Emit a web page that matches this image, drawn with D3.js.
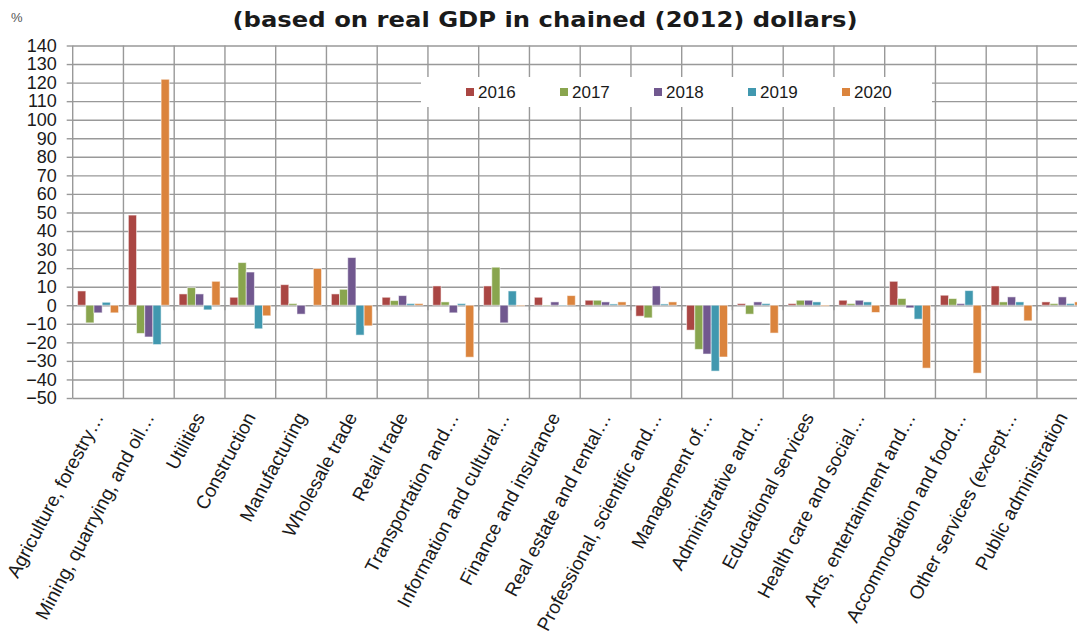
<!DOCTYPE html>
<html>
<head>
<meta charset="utf-8">
<script src="https://cdnjs.cloudflare.com/ajax/libs/d3/7.8.5/d3.min.js"></script>
<style>
    body { margin: 0; background: #fff; }
    svg { display: block; font-family: "Liberation Sans", Arial, sans-serif; }
    .grid line { stroke: #999; stroke-width: 1.4; }
    .grid path { display: none; }
    .y-axis path { display: none; }
    .y-axis line { stroke: #999; stroke-width: 1.4; }
    .y-axis text { font-size: 18px; fill: #1a1a1a; }
    .cat-label { font-size: 19px; fill: #1a1a1a; }
    .legend-text { font-size: 17px; fill: #1a1a1a; }
    .chart-title { font-family: "DejaVu Sans", sans-serif; font-weight: 700; font-size: 22px; fill: #1a1a1a; }
</style>
</head>
<body>
<svg id="chart"></svg>
<script>
// industries along the x axis
const categories = [
    "Agriculture, forestry…", "Mining, quarrying, and oil…", "Utilities", "Construction",
    "Manufacturing", "Wholesale trade", "Retail trade", "Transportation and…",
    "Information and cultural…", "Finance and insurance", "Real estate and rental…",
    "Professional, scientific and…", "Management of…", "Administrative and…",
    "Educational services", "Health care and social…", "Arts, entertainment and…",
    "Accommodation and food…", "Other services (except…", "Public administration"
];

const years = ["2016", "2017", "2018", "2019", "2020"];
const colors = ["#AA4643", "#89A54E", "#71588F", "#4198AF", "#DB843D"];

// growth in % per year, same order as categories
const v2016 = [7.7, 48.6, 6.1, 4.3, 11.1, 6.1, 4.3, 10.4, 10.4, 4.3, 2.7, -5.9, -13.4, 0.9, 0.9, 2.7, 12.9, 5.4, 10.4, 1.8];
const v2017 = [-9.5, -15.2, 9.5, 23.0, 0.9, 8.6, 2.5, 1.8, 20.5, -0.3, 2.7, -6.8, -23.8, -4.8, 2.7, 0.9, 3.6, 3.6, 1.8, 0.9];
const v2018 = [-4.1, -17.1, 6.1, 17.9, -4.8, 25.7, 5.2, -4.1, -9.5, 1.8, 1.8, 10.4, -26.3, 1.8, 2.7, 2.7, -1.4, 0.9, 4.5, 4.5];
const v2019 = [1.6, -21.2, -2.5, -12.7, 0.0, -16.1, 0.9, 0.9, 7.7, -0.3, 0.7, 0.7, -35.5, 0.9, 1.8, 1.8, -7.5, 7.9, 1.8, 0.9];
const v2020 = [-4.1, 121.8, 12.9, -5.7, 19.8, -11.1, 0.9, -28.0, -0.5, 5.2, 1.8, 1.8, -27.9, -15.0, -0.5, -3.9, -33.9, -36.6, -8.4, 1.8];

const yTicks = d3.range(-50, 141, 10);

class GroupedBarChart {
    constructor(_config){
        this.config = {
            parentElement: _config.parentElement,
            containerWidth: _config.containerWidth || 1077,
            containerHeight: _config.containerHeight || 637,
            margin: _config.margin || {top: 45.5, left: 72.7},
            bandWidth: _config.bandWidth || 50.75,
            plotHeight: _config.plotHeight || 352.5
        }
        this.series = [v2016, v2017, v2018, v2019, v2020];
        this.initVis();
    }

    initVis(){
        let vis = this;

        vis.width = categories.length * vis.config.bandWidth;
        vis.height = vis.config.plotHeight;

        vis.svg = d3.select(vis.config.parentElement)
            .attr('width', vis.config.containerWidth)
            .attr('height', vis.config.containerHeight);

        vis.chart = vis.svg.append('g')
            .attr('transform', `translate(${vis.config.margin.left},${vis.config.margin.top})`);

        vis.xScale = d3.scaleBand()
            .domain(categories)
            .range([0, vis.width]);

        // bars inside one industry
        vis.xSub = d3.scaleBand()
            .domain(years)
            .range([0, vis.xScale.bandwidth()])
            .paddingOuter(0.6);

        vis.yScale = d3.scaleLinear()
            .domain([-50, 140])
            .range([vis.height, 0]);

        vis.renderVis();
    }

    renderVis(){
        let vis = this;

        // horizontal gridlines
        vis.chart.append('g')
            .attr('class', 'grid')
            .call(d3.axisLeft(vis.yScale).tickValues(yTicks).tickSize(-vis.width).tickFormat(''));

        // vertical gridlines at industry boundaries
        const bounds = categories.map(c => vis.xScale(c)).concat([vis.width]);
        vis.chart.append('g')
            .attr('class', 'grid')
            .selectAll('line')
            .data(bounds)
            .join('line')
            .attr('x1', d => d).attr('x2', d => d)
            .attr('y1', 0).attr('y2', vis.height);

        // small ticks below the zero line
        vis.chart.append('g')
            .attr('class', 'grid')
            .selectAll('line')
            .data(bounds)
            .join('line')
            .attr('x1', d => d).attr('x2', d => d)
            .attr('y1', vis.yScale(0)).attr('y2', vis.yScale(0) + 5);

        // y axis labels + outer ticks
        vis.chart.append('g')
            .attr('class', 'axis y-axis')
            .call(d3.axisLeft(vis.yScale).tickValues(yTicks).tickSize(6).tickPadding(10));

        // bars
        years.forEach((yr, i) => {
            vis.chart.append('g')
                .selectAll('rect')
                .data(vis.series[i].map((v, j) => ({cat: categories[j], value: v})))
                .join('rect')
                .attr('x', d => vis.xScale(d.cat) + vis.xSub(yr))
                .attr('y', d => vis.yScale(Math.max(0, d.value)))
                .attr('width', vis.xSub.bandwidth())
                .attr('height', d => Math.abs(vis.yScale(d.value) - vis.yScale(0)))
                .attr('fill', colors[i])
                .attr('stroke', 'rgba(255,255,255,0.55)')
                .attr('stroke-width', 1);
        });

        // category labels, rotated
        vis.chart.append('g')
            .selectAll('text')
            .data(categories)
            .join('text')
            .attr('class', 'cat-label')
            .attr('text-anchor', 'end')
            .attr('transform', d => `translate(${vis.xScale(d) + vis.xScale.bandwidth() / 2 + 6},${vis.height + 19}) rotate(-62)`)
            .text(d => d);

        // legend box
        const legend = vis.chart.append('g')
            .attr('transform', `translate(${421 - vis.config.margin.left},${77 - vis.config.margin.top})`);
        legend.append('rect')
            .attr('width', 511).attr('height', 30)
            .attr('fill', '#fff');
        const items = legend.selectAll('g')
            .data(years)
            .join('g')
            .attr('transform', (d, i) => `translate(${45 + i * 94},15)`);
        items.append('rect')
            .attr('x', 0).attr('y', -4)
            .attr('width', 8).attr('height', 8)
            .attr('fill', (d, i) => colors[i]);
        items.append('text')
            .attr('class', 'legend-text')
            .attr('x', 12).attr('y', 6)
            .text(d => d);

        // title and unit
        vis.svg.append('text')
            .attr('class', 'chart-title')
            .attr('x', 545).attr('y', 27)
            .attr('text-anchor', 'middle')
            .attr('textLength', 625)
            .attr('lengthAdjust', 'spacingAndGlyphs')
            .text('(based on real GDP in chained (2012) dollars)');

        vis.svg.append('text')
            .attr('x', 11).attr('y', 22)
            .attr('font-size', 13)
            .attr('fill', '#555')
            .text('%');
    }
}

new GroupedBarChart({parentElement: '#chart'});
</script>
</body>
</html>
